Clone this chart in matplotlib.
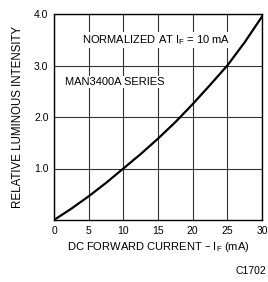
import matplotlib
matplotlib.use("Agg")
import matplotlib.pyplot as plt

current_ma = [0, 2.5, 5, 7.5, 10, 12.5, 15, 17.5, 20, 22.5, 25, 27.5, 30]
intensity = [0.0, 0.22, 0.46, 0.72, 1.0, 1.28, 1.58, 1.9, 2.25, 2.62, 3.0, 3.45, 3.95]

x_ticks = [0, 5, 10, 15, 20, 25, 30]
y_ticks = [1.0, 2.0, 3.0, 4.0]

plt.rcParams["font.family"] = ["Liberation Sans", "DejaVu Sans"]

fig = plt.figure(figsize=(2.68, 2.82), dpi=100)
ax = fig.add_axes([54 / 268, 1 - 220 / 282, 208 / 268, 206 / 282])

ax.plot(current_ma, intensity, color="black", linewidth=1.6)

ax.set_xlim(0, 30)
ax.set_ylim(0, 4.0)
ax.set_xticks(x_ticks)
ax.set_yticks(y_ticks)
ax.set_yticklabels([f"{v:.1f}" for v in y_ticks], fontsize=7.5)
ax.set_xticklabels([str(v) for v in x_ticks], fontsize=7.5)
ax.tick_params(length=0, pad=4)
ax.grid(True, color="#333333", linewidth=0.8)
for s in ax.spines.values():
    s.set_linewidth(1.0)

ax.set_xlabel("DC FORWARD CURRENT – I$_\\mathregular{F}$ (mA)", fontsize=8, labelpad=3)
ax.set_ylabel("RELATIVE LUMINOUS INTENSITY", fontsize=8.3, labelpad=7)

ax.text(0.49, 0.875, "NORMALIZED AT I$_\\mathregular{F}$ = 10 mA", transform=ax.transAxes,
        fontsize=8, ha="center", va="center",
        bbox=dict(facecolor="white", edgecolor="none", pad=1))
ax.text(0.053, 0.67, "MAN3400A SERIES", transform=ax.transAxes,
        fontsize=8, ha="left", va="center",
        bbox=dict(facecolor="white", edgecolor="none", pad=1))

fig.text(266 / 268, 1 - 271 / 282, "C1702", fontsize=7.5, ha="right", va="center")

fig.savefig("out.png", dpi=100)
